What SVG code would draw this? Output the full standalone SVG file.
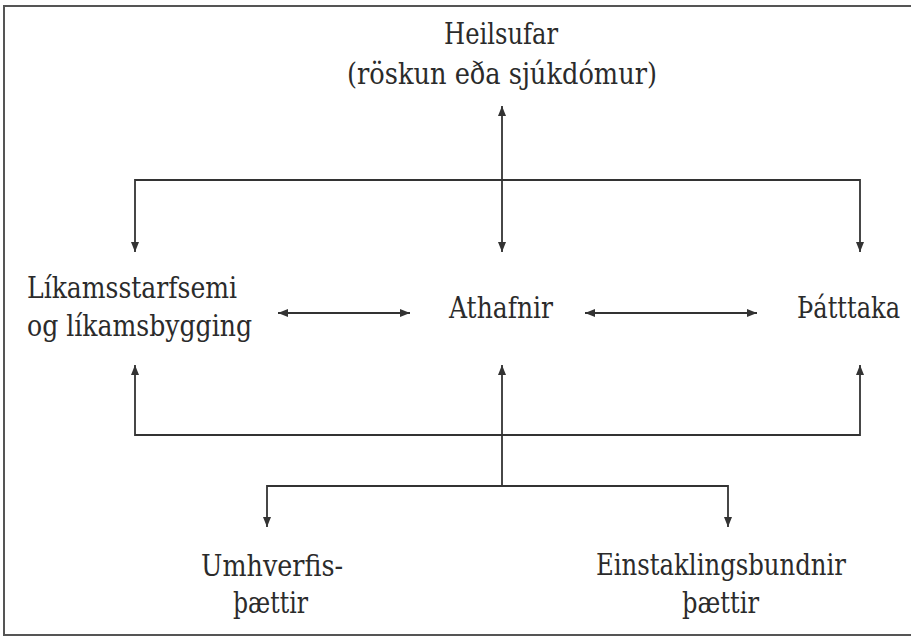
<svg xmlns="http://www.w3.org/2000/svg" width="911" height="637" viewBox="0 0 911 637">
<style>
text{font-family:'DejaVu Serif Condensed','DejaVu Serif',serif;font-stretch:condensed;font-size:30px;fill:#2b2b2b}
.ln{fill:none;stroke:#333;stroke-width:1.8}
</style>
<defs>
<marker id="ah" viewBox="0 0 10 8" refX="10" refY="4" markerWidth="10" markerHeight="8" markerUnits="userSpaceOnUse" orient="auto-start-reverse">
<path d="M0,0 L10,4 L0,8 z" fill="#333"/>
</marker>
</defs>
<rect width="911" height="637" fill="#fff"/>
<path d="M912,6 L4,6 L4,635 L912,635" fill="none" stroke="#555" stroke-width="2"/>
<g id="connectors">
<path class="ln" d="M502,106 L502,252" marker-start="url(#ah)" marker-end="url(#ah)"/>
<path class="ln" d="M135,252 L135,180 L860,180 L860,252" marker-start="url(#ah)" marker-end="url(#ah)"/>
<path class="ln" d="M278,313 L410,313" marker-start="url(#ah)" marker-end="url(#ah)"/>
<path class="ln" d="M585,313 L757,313" marker-start="url(#ah)" marker-end="url(#ah)"/>
<path class="ln" d="M135,365 L135,435 L860,435 L860,365" marker-start="url(#ah)" marker-end="url(#ah)"/>
<path class="ln" d="M502,365 L502,486" marker-start="url(#ah)"/>
<path class="ln" d="M267,527 L267,486 L728,486 L728,527" marker-start="url(#ah)" marker-end="url(#ah)"/>
</g>
<g id="heilsufar">
<text x="444" y="44" textLength="114" lengthAdjust="spacingAndGlyphs">Heilsufar</text>
<text x="347" y="84" textLength="310" lengthAdjust="spacingAndGlyphs">(röskun eða sjúkdómur)</text>
</g>
<g id="likamsstarfsemi">
<text x="27" y="298" textLength="210" lengthAdjust="spacingAndGlyphs">Líkamsstarfsemi</text>
<text x="27" y="336" textLength="225" lengthAdjust="spacingAndGlyphs">og líkamsbygging</text>
</g>
<g id="athafnir">
<text x="449" y="318" textLength="104" lengthAdjust="spacingAndGlyphs">Athafnir</text>
</g>
<g id="thatttaka">
<text x="797" y="318" textLength="103" lengthAdjust="spacingAndGlyphs">Þátttaka</text>
</g>
<g id="umhverfis">
<text x="201" y="576" textLength="142" lengthAdjust="spacingAndGlyphs">Umhverfis-</text>
<text x="233" y="613" textLength="75" lengthAdjust="spacingAndGlyphs">þættir</text>
</g>
<g id="einstaklings">
<text x="596" y="575" textLength="250" lengthAdjust="spacingAndGlyphs">Einstaklingsbundnir</text>
<text x="682" y="613" textLength="77" lengthAdjust="spacingAndGlyphs">þættir</text>
</g>
</svg>
